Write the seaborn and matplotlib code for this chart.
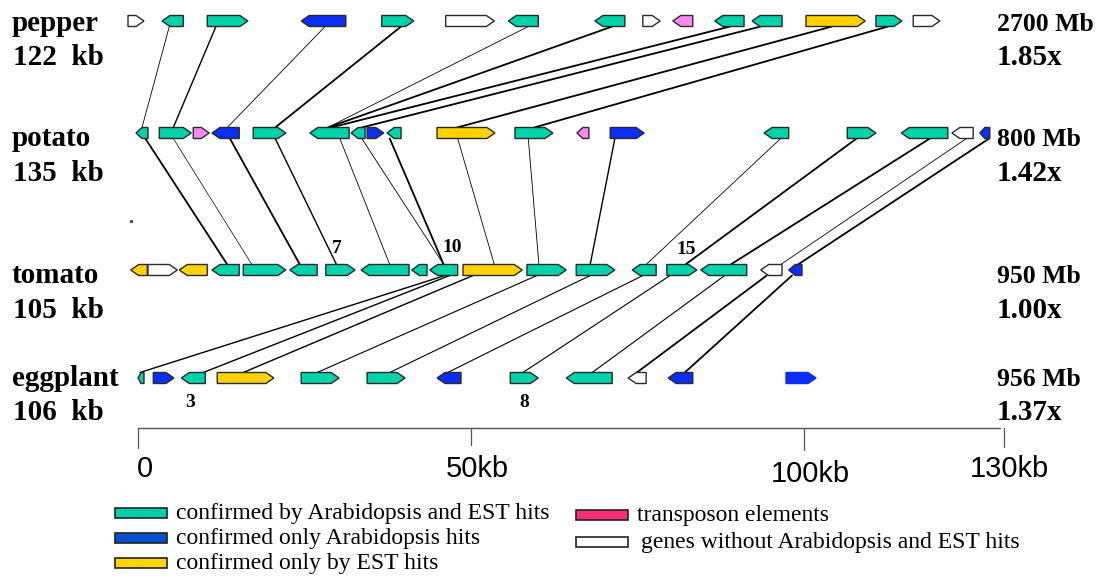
import numpy as np
import pandas as pd
import seaborn as sns
import matplotlib.pyplot as plt
from matplotlib.patches import Polygon, Rectangle

# gene tracks: start / end in kb, strand (1 = right, -1 = left), class
pepper_start = [-1.5, 3.6, 10.4, 24.5, 36.6, 46.2, 55.6, 68.6, 75.8, 80.3, 86.6, 92.2, 100.3, 110.8, 116.4]
pepper_end = [0.9, 6.8, 16.5, 31.2, 41.4, 53.5, 60.1, 73.1, 78.4, 83.3, 91.0, 96.7, 109.2, 114.7, 120.4]
pepper_strand = [1, -1, 1, -1, 1, 1, -1, -1, 1, -1, -1, -1, 1, 1, 1]
pepper_type = ["none", "both", "both", "arab", "both", "none", "both", "both", "none", "tpn", "both", "both", "est", "both", "none"]

potato_start = [-0.3, 3.2, 8.3, 11.1, 17.3, 25.8, 32.0, 34.4, 37.4, 44.9, 56.6, 65.9, 70.9, 94.0, 106.5, 114.6, 122.2, 126.4]
potato_end = [1.5, 8.0, 10.7, 15.2, 22.2, 31.7, 34.1, 36.9, 39.5, 53.6, 62.3, 67.7, 76.0, 97.7, 110.8, 121.6, 125.4, 127.9]
potato_strand = [-1, 1, 1, -1, 1, -1, -1, 1, -1, 1, 1, -1, 1, -1, 1, -1, -1, -1]
potato_type = ["both", "both", "tpn", "arab", "both", "both", "both", "arab", "both", "est", "both", "tpn", "arab", "both", "both", "both", "none", "arab"]

tomato_start = [-1.1, 1.5, 6.2, 11.1, 15.8, 22.8, 28.2, 33.5, 41.1, 43.8, 48.8, 58.4, 65.8, 74.2, 79.4, 84.5, 93.5, 97.7]
tomato_end = [1.4, 5.9, 10.4, 15.2, 22.2, 26.9, 32.6, 40.7, 43.4, 48.0, 57.7, 64.3, 71.6, 77.8, 83.9, 91.4, 96.7, 99.7]
tomato_strand = [-1, 1, -1, -1, 1, -1, 1, -1, -1, -1, 1, 1, 1, -1, 1, -1, -1, -1]
tomato_type = ["est", "none", "est", "both", "both", "both", "both", "both", "both", "both", "est", "both", "both", "both", "both", "both", "none", "arab"]

eggplant_start = [0.0, 2.3, 6.5, 11.9, 24.5, 34.4, 44.9, 55.9, 64.3, 73.6, 79.6, 97.3]
eggplant_end = [0.9, 5.4, 10.1, 20.4, 30.2, 40.1, 48.5, 60.1, 71.2, 76.3, 83.3, 101.8]
eggplant_strand = [-1, 1, -1, 1, 1, 1, -1, 1, -1, -1, -1, 1]
eggplant_type = ["both", "arab", "both", "est", "both", "both", "arab", "both", "both", "none", "arab", "arab"]

species = ["pepper", "potato", "tomato", "eggplant"]
region_size = ["122  kb", "135  kb", "105  kb", "106  kb"]
genome_size = ["2700 Mb", "800 Mb", "950 Mb", "956 Mb"]
expansion = ["1.85x", "1.42x", "1.00x", "1.37x"]

# orthologous links (upper kb, lower kb)
pep_pot_upper = [4.7, 11.7, 28.1, 39.5, 58.6, 71.2, 88.9, 93.5, 104.2, 112.6]
pep_pot_lower = [0.6, 5.3, 13.4, 20.6, 28.5, 28.5, 29.0, 33.6, 47.9, 59.5]
pot_tom_upper = [1.1, 5.3, 13.8, 20.6, 30.3, 33.6, 37.8, 48.0, 58.6, 71.6, 96.5, 107.9, 118.9, 124.4, 127.8]
pot_tom_lower = [13.4, 17.1, 24.3, 29.8, 37.8, 45.9, 45.9, 53.5, 60.2, 67.9, 76.3, 82.2, 89.0, 96.5, 99.1]
tom_egg_upper = [46.1, 46.8, 50.3, 59.9, 67.9, 75.8, 79.9, 88.1, 94.4, 98.2]
tom_egg_lower = [0.3, 9.8, 15.8, 26.9, 37.8, 46.5, 57.8, 68.2, 74.9, 82.1]

tick_kb = [0, 50, 100, 130]
tick_labels = ["0", "50kb", "100kb", "130kb"]

legend_labels = ["confirmed by Arabidopsis and EST hits", "confirmed only Arabidopsis hits",
                 "confirmed only by EST hits", "transposon elements",
                 "genes without Arabidopsis and EST hits"]

# ---- styling ----
X0, SCALE = 138, 6.66      # pixel of 0 kb, pixels per kb
def px(x):
    return (x - X0) / SCALE

gene_colors = {"both": "#00D2AA", "arab": "#0A2EF8", "est": "#FFD200",
               "tpn": "#FF88F0", "none": "#FFFFFF"}
legend_colors = ["#00D0A8", "#0050D0", "#FFD400", "#FF2D78", "#FFFFFF"]
track_y = [21, 133, 270, 378]
H = 11
link_lw = [
    [0.6, 1.0, 0.6, 1.3, 0.6, 1.3, 1.3, 1.3, 1.3, 1.3],
    [1.3, 0.5, 1.3, 1.0, 0.6, 0.6, 1.3, 0.6, 0.6, 1.0, 0.6, 1.3, 1.3, 0.6, 1.3],
    [1.0, 1.0, 1.0, 0.8, 0.8, 0.8, 0.8, 0.8, 1.3, 1.3],
]

sns.set_theme(style="white")
plt.rcParams["font.family"] = ["Liberation Serif", "DejaVu Serif"]
plt.rcParams["text.color"] = "black"

fig = plt.figure(figsize=(11.07, 5.78), dpi=100)
ax = fig.add_axes([0, 0, 1, 1])

# links via seaborn
rows = []
pairs = [(pep_pot_upper, pep_pot_lower), (pot_tom_upper, pot_tom_lower), (tom_egg_upper, tom_egg_lower)]
lid = 0
for t, (up, lo) in enumerate(pairs):
    for i, (a, b) in enumerate(zip(up, lo)):
        rows.append({"x": a, "y": track_y[t] + H / 2, "link": lid, "w": link_lw[t][i]})
        rows.append({"x": b, "y": track_y[t + 1] - H / 2, "link": lid, "w": link_lw[t][i]})
        lid += 1
links = pd.DataFrame(rows)
for w, grp in links.groupby("w"):
    sns.lineplot(data=grp, x="x", y="y", units="link", estimator=None, sort=False,
                 color="black", linewidth=w, ax=ax, legend=False)

# genes as arrows
tracks = [(pepper_start, pepper_end, pepper_strand, pepper_type),
          (potato_start, potato_end, potato_strand, potato_type),
          (tomato_start, tomato_end, tomato_strand, tomato_type),
          (eggplant_start, eggplant_end, eggplant_strand, eggplant_type)]
head = 8 / SCALE
for t, (st, en, sd, ty) in enumerate(tracks):
    y = track_y[t]
    for k, (a, b, s, g) in enumerate(zip(st, en, sd, ty)):
        hl = min(head, (b - a) * 0.5)
        if s == 1:
            pts = [(a, y - H / 2), (b - hl, y - H / 2), (b, y), (b - hl, y + H / 2), (a, y + H / 2)]
        else:
            pts = [(b, y - H / 2), (a + hl, y - H / 2), (a, y), (a + hl, y + H / 2), (b, y + H / 2)]
        no_edge = (t == 3 and k == len(st) - 1)
        ax.add_patch(Polygon(pts, closed=True, facecolor=gene_colors[g],
                             edgecolor=gene_colors[g] if no_edge else "#2a2a2a",
                             linewidth=1.0, zorder=3))

# labels
left_base = [(31, 65), (146, 181), (283, 318), (386, 420)]
for i, name in enumerate(species):
    ax.text(px(12), left_base[i][0], name, fontsize=21, fontweight="bold", va="baseline")
    ax.text(px(13), left_base[i][1], region_size[i], fontsize=21, fontweight="bold", va="baseline")
    ax.text(px(997), left_base[i][0], genome_size[i], fontsize=18.5, fontweight="bold", va="baseline")
    ax.text(px(997), left_base[i][1], expansion[i], fontsize=21, fontweight="bold", va="baseline")

for lab, x, yb in [("7", 337, 253), ("10", 452, 252), ("15", 686, 254), ("3", 190, 407), ("8", 524, 407)]:
    ax.text(px(x), yb, lab, fontsize=14, fontweight="bold", ha="center", va="baseline")
ax.plot([px(131)], [221], marker="s", ms=1.2, color="#444444")

# scale bar
ax.plot([px(138), px(1000)], [428, 428], color="#555555", lw=1.0)
tick_len = [20, 17, 22, 19]
tick_ybase = [477, 477, 482, 477]
for k, lab in enumerate(tick_labels):
    ax.plot([tick_kb[k], tick_kb[k]], [428, 428 + tick_len[k]], color="#555555", lw=0.9)
    ax.text(tick_kb[k] + (1.0 if k == 0 else 0.9), tick_ybase[k], lab, fontsize=21, ha="center",
            va="baseline", family=["Liberation Sans", "DejaVu Sans"])

# legend
leg_pos = [(115, 513), (115, 538), (115, 563), (576, 515), (576, 542)]
for k, lab in enumerate(legend_labels):
    x, y = leg_pos[k]
    ax.add_patch(Rectangle((px(x), y - 5), 52 / SCALE, 10, facecolor=legend_colors[k],
                           edgecolor="#222222", linewidth=1.2, zorder=3))
    ax.text(px(x + 61 + (4 if k == 4 else 0)), y + 6, lab, fontsize=17, va="baseline")

ax.set_xlim(px(0), px(1107))
ax.set_ylim(578, 0)
ax.set_axis_off()
fig.savefig("out.png", dpi=100)
